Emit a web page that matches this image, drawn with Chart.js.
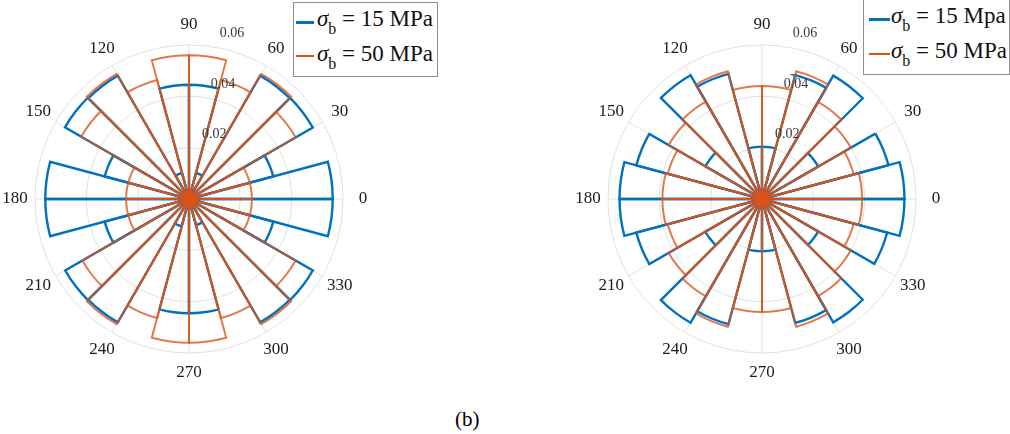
<!DOCTYPE html>
<html>
<head>
<meta charset="utf-8">
<script src="https://cdn.jsdelivr.net/npm/chart.js@4.4.1/dist/chart.umd.min.js"></script>
<style>
  body { margin: 0; width: 1010px; height: 434px; background: #fff; position: relative; overflow: hidden; font-family: "Liberation Serif", "Times New Roman", serif; color: #000; }
  .plot { position: absolute; top: -1px; width: 400px; height: 400px; }
  .legend { position: absolute; box-sizing: border-box; border: 1px solid #8f8f8f; background: #fff; z-index: 2; }
  .row { position: absolute; font-size: 23px; line-height: 22px; white-space: nowrap; color: #111; }
  .swatch { position: absolute; height: 0; }
  .sw15 { border-top: 3px solid #0072BD; }
  .sw50 { border-top: 2px solid #D95319; }
  .sb { font-size: 16px; position: relative; top: 8px; }
  #caption { position: absolute; left: 455px; top: 409px; font-size: 21px; line-height: 20px; }
</style>
</head>
<body>
<canvas id="leftChart" class="plot" width="400" height="400" style="left:-11px"></canvas>
<canvas id="rightChart" class="plot" width="400" height="400" style="left:562px"></canvas>

<div class="legend" style="left:293px; top:2px; width:145px; height:75px">
  <div class="swatch sw15" style="left:2px; top:18px; width:18px"></div>
  <div class="row" style="left:23px; top:5px"><i>σ</i><span class="sb">b</span> = 15 MPa</div>
  <div class="swatch sw50" style="left:2px; top:52px; width:18px"></div>
  <div class="row" style="left:23px; top:40px"><i>σ</i><span class="sb">b</span> = 50 MPa</div>
</div>

<div class="legend" style="left:863px; top:-2px; width:147px; height:77px">
  <div class="swatch sw15" style="left:5px; top:19px; width:21px"></div>
  <div class="row" style="left:27px; top:6px"><i>σ</i><span class="sb">b</span> = 15 Mpa</div>
  <div class="swatch sw50" style="left:5px; top:54px; width:21px"></div>
  <div class="row" style="left:27px; top:41px"><i>σ</i><span class="sb">b</span> = 50 MPa</div>
</div>

<div id="caption">(b)</div>

<script>
// bins of 15 degrees, counter-clockwise from 0
const binStarts = [0, 15, 30, 45, 60, 75, 90, 105, 120, 135, 150, 165,
                   180, 195, 210, 225, 240, 255, 270, 285, 300, 315, 330, 345];
const thetaTicks = [0, 30, 60, 90, 120, 150, 180, 210, 240, 270, 300, 330];
const rTicks = [0.02, 0.04, 0.06];

// left chart
const leftS15 = [0.056, 0.034, 0.0557, 0.0555, 0.0105, 0.0445, 0.0445, 0.0105, 0.0555, 0.0558, 0.034, 0.056,
                 0.056, 0.034, 0.0557, 0.0555, 0.011, 0.0445, 0.0445, 0.0105, 0.0555, 0.0557, 0.034, 0.056];
const leftS50 = [0.0245, 0.0245, 0.048, 0.0563, 0.048, 0.056, 0.056, 0.048, 0.0563, 0.0485, 0.0245, 0.0245,
                 0.0245, 0.0245, 0.048, 0.0563, 0.048, 0.056, 0.056, 0.048, 0.0563, 0.048, 0.0245, 0.0245];

// right chart
const rightS15 = [0.0555, 0.051, 0.0253, 0.0555, 0.050, 0.0204, 0.0204, 0.0505, 0.0557, 0.0255, 0.0507, 0.0555,
                  0.0555, 0.0507, 0.0255, 0.0557, 0.0505, 0.0204, 0.0204, 0.050, 0.0555, 0.0253, 0.0505, 0.0555];
const rightS50 = [0.039, 0.037, 0.040, 0.0437, 0.0515, 0.044, 0.044, 0.0515, 0.0438, 0.042, 0.038, 0.0388,
                  0.0388, 0.038, 0.042, 0.0438, 0.0515, 0.044, 0.044, 0.0515, 0.0437, 0.040, 0.037, 0.039];

const BLUE = '#0072BD';
const ORANGE = 'rgba(217, 83, 25, 0.78)';
const GRID = '#e1e1e1';

// chart.js polarArea runs clockwise, so reverse the bins (start at east)
const cw = arr => arr.slice().reverse();

// angle labels and radial tick labels (MATLAB style, r labels at 80 deg)
const polarLabels = {
    id: 'polarLabels',
    afterDraw(chart) {
        const s = chart.scales.r;
        const ctx = chart.ctx;
        ctx.save();
        // orange hub where all the bin edges meet
        ctx.fillStyle = '#D95319';
        ctx.beginPath();
        ctx.arc(s.xCenter, s.yCenter, 7, 0, Math.PI * 2);
        ctx.fill();

        ctx.fillStyle = '#1a1a1a';
        ctx.font = '17px "Liberation Serif"';
        ctx.textAlign = 'center';
        ctx.textBaseline = 'middle';
        const d = s.drawingArea + 20;
        thetaTicks.forEach(a => {
            const t = a * Math.PI / 180;
            ctx.fillText(String(a), s.xCenter + d * Math.cos(t), s.yCenter - d * Math.sin(t));
        });
        ctx.font = '14px "Liberation Serif"';
        ctx.textAlign = 'left';
        ctx.fillStyle = '#3a3a3a';
        const t80 = 80 * Math.PI / 180;
        rTicks.forEach(v => {
            const r = s.getDistanceFromCenterForValue(v);
            ctx.fillText(v.toFixed(2), s.xCenter + r * Math.cos(t80) + 4, s.yCenter - r * Math.sin(t80) - 14);
        });
        ctx.restore();
    }
};

const makeRose = (id, s15, s50) => {
    const ctx = document.getElementById(id).getContext('2d');
    return new Chart(ctx, {
        type: 'polarArea',
        data: {
            labels: cw(binStarts),
            datasets: [
                { label: '15', data: cw(s15), backgroundColor: 'rgba(0,0,0,0)', borderColor: BLUE, borderWidth: 2.4, borderJoinStyle: 'miter', order: 1 },
                { label: '50', data: cw(s50), backgroundColor: 'rgba(0,0,0,0)', borderColor: ORANGE, borderWidth: 2.0, borderJoinStyle: 'miter', order: 0 }
            ]
        },
        options: {
            responsive: false,
            animation: false,
            events: [],
            layout: { padding: 46 },
            plugins: { legend: { display: false }, tooltip: { enabled: false } },
            scales: {
                r: {
                    min: 0, max: 0.06, startAngle: 90,
                    ticks: { display: false, stepSize: 0.02 },
                    grid: { circular: true, color: GRID, lineWidth: 1 },
                    angleLines: { display: true, lineWidth: 1, color: (c) => c.index % 2 === 0 ? GRID : null },
                    pointLabels: { display: false }
                }
            }
        },
        plugins: [polarLabels]
    });
};

makeRose('leftChart', leftS15, leftS50);
makeRose('rightChart', rightS15, rightS50);
</script>
</body>
</html>
